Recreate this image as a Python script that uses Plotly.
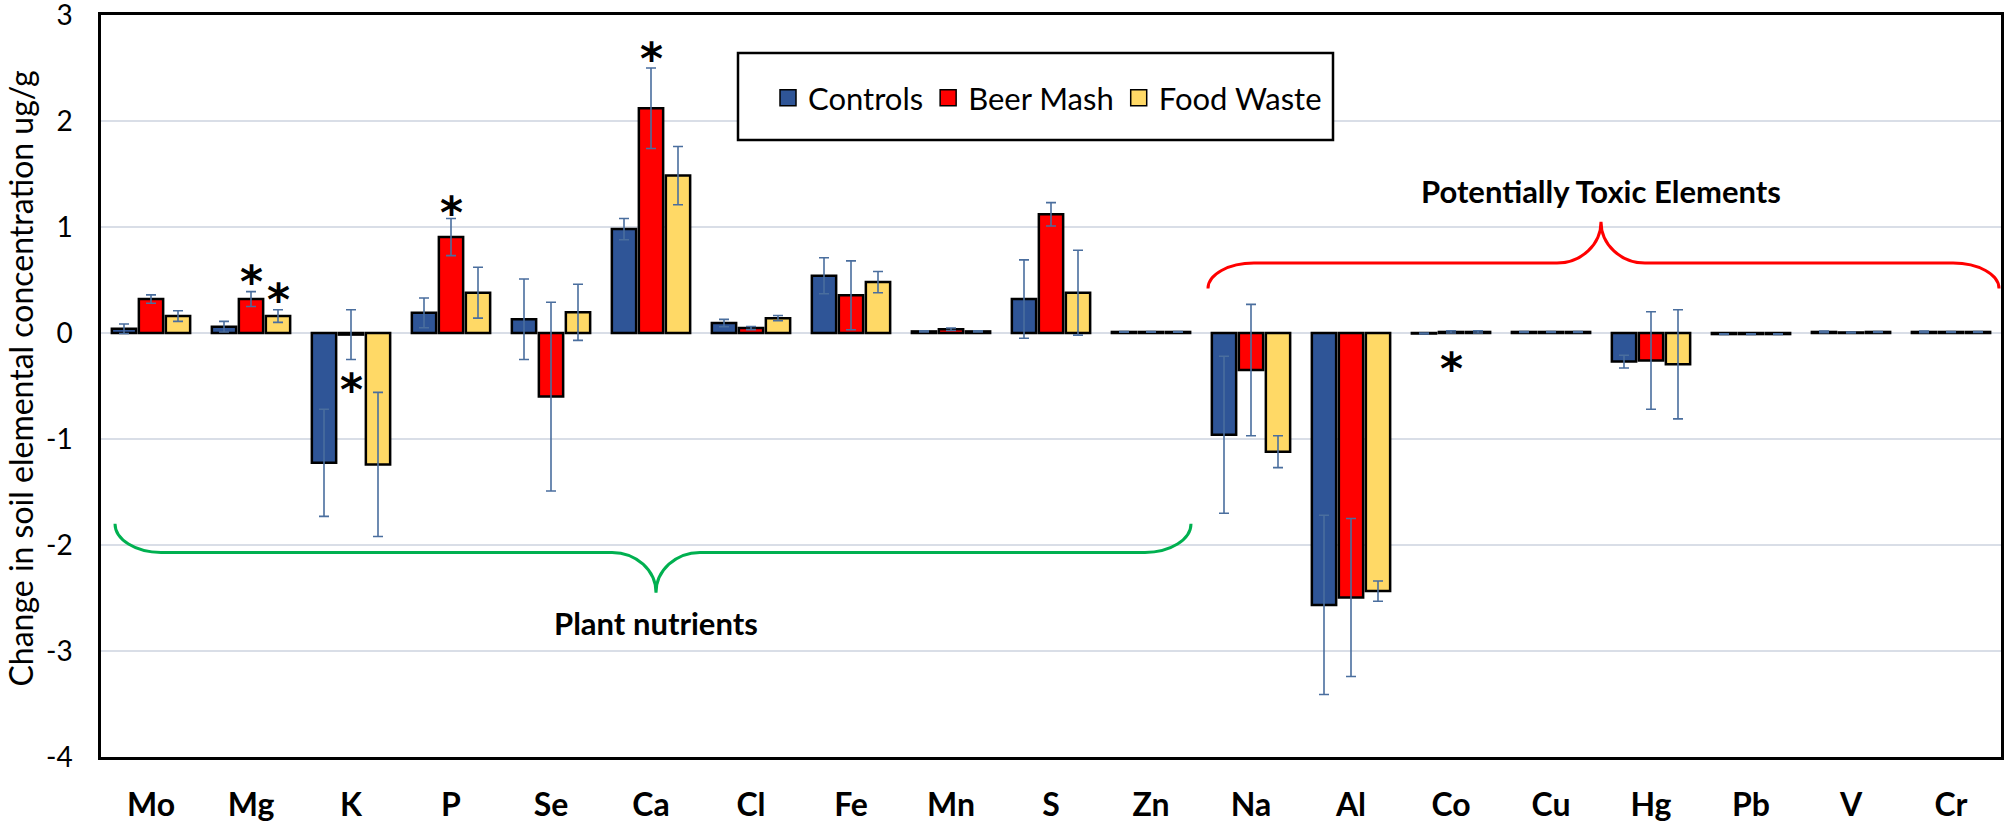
import plotly.graph_objects as go

# ---------------- data ----------------
categories = ["Mo", "Mg", "K", "P", "Se", "Ca", "Cl", "Fe", "Mn", "S", "Zn",
              "Na", "Al", "Co", "Cu", "Hg", "Pb", "V", "Cr"]
series_names = ["Controls", "Beer Mash", "Food Waste"]

controls = [0.04, 0.06, -1.225, 0.19, 0.13, 0.98, 0.094, 0.54, 0.015, 0.32, 0.01,
            -0.96, -2.565, -0.005, 0.01, -0.27, -0.01, 0.01, 0.01]
controls_err = [0.045, 0.05, 0.505, 0.14, 0.38, 0.10, 0.035, 0.17, 0.005, 0.37, 0.003,
                0.74, 0.845, 0.005, 0.004, 0.06, 0.003, 0.008, 0.008]
beer_mash = [0.32, 0.32, -0.015, 0.905, -0.60, 2.12, 0.047, 0.355, 0.035, 1.12, 0.01,
             -0.35, -2.495, 0.01, 0.01, -0.26, -0.01, 0.005, 0.01]
beer_mash_err = [0.04, 0.07, 0.235, 0.175, 0.89, 0.38, 0.015, 0.325, 0.012, 0.11, 0.003,
                 0.62, 0.745, 0.01, 0.004, 0.46, 0.003, 0.004, 0.004]
food_waste = [0.16, 0.16, -1.24, 0.38, 0.195, 1.485, 0.14, 0.48, 0.015, 0.38, 0.01,
              -1.12, -2.435, 0.01, 0.01, -0.295, -0.01, 0.01, 0.01]
food_waste_err = [0.05, 0.06, 0.68, 0.24, 0.265, 0.275, 0.025, 0.10, 0.005, 0.40, 0.003,
                  0.15, 0.095, 0.01, 0.004, 0.515, 0.003, 0.004, 0.004]

# significance asterisks: (category, series index, y value)
star_categories = ["Mg", "Mg", "K", "P", "Ca", "Co"]
star_series = [1, 2, 1, 1, 1, 1]
star_y = [0.59, 0.42, -0.43, 1.24, 2.69, -0.23]

# group braces
brace_labels = ["Plant nutrients", "Potentially Toxic Elements"]
brace_x0 = [-0.36, 10.57]
brace_x1 = [10.40, 18.48]
brace_tip_x = [5.05, 14.5]
brace_end_y = [-1.80, 0.42]
brace_band_y = [-2.07, 0.66]
brace_tip_y = [-2.45, 1.05]
brace_label_y = [-2.74, 1.34]
brace_colors = ["#00B050", "#FF0000"]

y_ticks = [3, 2, 1, 0, -1, -2, -3, -4]
y_tick_labels = ["3", "2", "1", "0", "-1", "-2", "-3", "-4"]

# ---------------- styling ----------------
colors = ["#2F5597", "#FF0000", "#FFD966"]
err_color = "#4A6E9E"
FONT = "Lato"
W, H = 2008, 826
PL, PR, PT, PB = 101, 2001, 15, 757   # plot area edges in pixels
ML, MT, MR, MB = PL, PT, W - PR, H - PB
plot_w = W - ML - MR
plot_h = H - MT - MB
BARGAP = 0.19
GROUPGAP = 0.10


def px_x(p):
    return (p - ML) / plot_w


def px_y(p):
    return (MT + plot_h - p) / plot_h


values = [controls, beer_mash, food_waste]
errors = [controls_err, beer_mash_err, food_waste_err]
xidx = list(range(len(categories)))

fig = go.Figure()
for name, col, v, e in zip(series_names, colors, values, errors):
    fig.add_trace(go.Bar(
        x=xidx, y=v, name=name, showlegend=False,
        marker=dict(color=col, line=dict(color="black", width=2.5)),
        error_y=dict(type="data", array=e, visible=True, color=err_color,
                     thickness=1.6, width=5),
    ))

# legend proxies (larger square icons)
for name, col in zip(series_names, colors):
    fig.add_trace(go.Scatter(
        x=[None], y=[None], mode="markers", name=name, showlegend=True,
        marker=dict(symbol="square", size=16, color=col,
                    line=dict(color="black", width=1.5)),
    ))

slot = (1 - BARGAP) / 3
offsets = [-slot, 0.0, slot]

annotations = []
for c, s, yv in zip(star_categories, star_series, star_y):
    annotations.append(dict(
        x=categories.index(c) + offsets[s], y=yv, xref="x", yref="y",
        text="*", showarrow=False, yshift=-11,
        font=dict(family="DejaVu Sans", size=44, color="black", weight="bold"),
    ))

shapes = []
k = 0.552
for lab, x0, x1, xt, ye, ym, yt, yl, col in zip(
        brace_labels, brace_x0, brace_x1, brace_tip_x, brace_end_y,
        brace_band_y, brace_tip_y, brace_label_y, brace_colors):
    de = 0.46
    dt = 0.44
    path = (
        f"M{x0},{ye} "
        f"C{x0},{ye + k * (ym - ye)} {x0 + de * (1 - k)},{ym} {x0 + de},{ym} "
        f"L{xt - dt},{ym} "
        f"C{xt - dt + k * dt},{ym} {xt},{yt + k * (ym - yt)} {xt},{yt} "
        f"C{xt},{yt + k * (ym - yt)} {xt + dt - k * dt},{ym} {xt + dt},{ym} "
        f"L{x1 - de},{ym} "
        f"C{x1 - de * (1 - k)},{ym} {x1},{ye + k * (ym - ye)} {x1},{ye}"
    )
    shapes.append(dict(type="path", path=path, xref="x", yref="y",
                       line=dict(color=col, width=3), layer="above"))
    annotations.append(dict(
        x=xt, y=yl, xref="x", yref="y", text=lab, showarrow=False,
        font=dict(family=FONT, size=31, color="black", weight="bold"),
    ))

# legend frame
lx0, lx1, ly0, ly1 = 738, 1333, 53, 140
shapes.append(dict(
    type="rect", xref="paper", yref="paper",
    x0=px_x(lx0), x1=px_x(lx1), y0=px_y(ly1), y1=px_y(ly0),
    line=dict(color="black", width=2.5), fillcolor="white", layer="above",
))

# y-axis title
annotations.append(dict(
    x=px_x(21), y=0.51, xref="paper", yref="paper",
    text="Change in soil elemental concentration ug/g", textangle=-90,
    showarrow=False, xanchor="center", yanchor="middle",
    font=dict(family=FONT, size=32, color="black"),
))

fig.update_layout(
    width=W, height=H,
    margin=dict(l=ML, r=MR, t=MT, b=MB, autoexpand=False),
    paper_bgcolor="white", plot_bgcolor="white",
    barmode="group", bargap=BARGAP, bargroupgap=GROUPGAP,
    font=dict(family=FONT, color="black"),
    legend=dict(
        orientation="h", x=px_x((lx0 + lx1) / 2 + 12),
        y=px_y((ly0 + ly1) / 2 + 1.5),
        xanchor="center", yanchor="middle",
        bgcolor="rgba(0,0,0,0)", borderwidth=0,
        font=dict(family=FONT, size=31, color="black"),
        itemsizing="trace",
    ),
    shapes=shapes,
    annotations=annotations,
)

fig.update_xaxes(
    range=[-0.5, len(categories) - 0.5],
    tickmode="array", tickvals=xidx, ticktext=categories,
    tickfont=dict(family=FONT, size=32, color="black", weight="bold"),
    ticks="", ticklabelstandoff=18, automargin=False,
    showgrid=False, zeroline=False,
    showline=True, linecolor="black", linewidth=2.5, mirror=True,
)
fig.update_yaxes(
    range=[-4, 3], tickmode="array", tickvals=y_ticks, ticktext=y_tick_labels,
    tickfont=dict(family=FONT, size=28, color="black"),
    ticks="", ticklabelstandoff=20, ticklabeloverflow="allow", automargin=False,
    showgrid=True, gridcolor="#D9DEE7", gridwidth=2,
    zeroline=True, zerolinecolor="#D9DEE7", zerolinewidth=2,
    showline=True, linecolor="black", linewidth=2.5, mirror=True,
)

# remove the default page margin so the figure sits at the window's corner
fig.write_html("out.html",
               config={"displayModeBar": False},
               post_script="document.body.style.margin='0';"
                           "document.body.style.overflow='hidden';")
